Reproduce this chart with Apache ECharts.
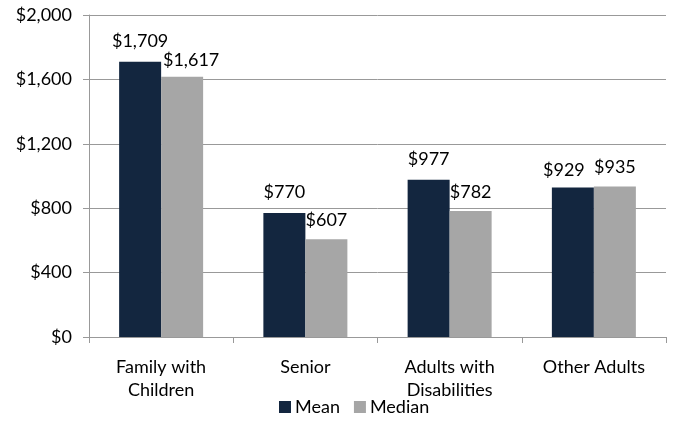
<!DOCTYPE html>
<html>
<head>
<meta charset="utf-8">
<script src="https://cdn.jsdelivr.net/npm/echarts@6/dist/echarts.min.js"></script>
<style>html,body{margin:0;padding:0;background:#fff;}#c{width:688px;height:421px;}</style>
</head>
<body>
<div id="c"></div>
<script>
var categories = ['Family with\nChildren', 'Senior', 'Adults with\nDisabilities', 'Other Adults'];
var meanValues = [1709, 770, 977, 929];
var medianValues = [1617, 607, 782, 935];
var seriesNames = ['Mean', 'Median'];

var fontFam = 'Lato, "Open Sans", sans-serif';
function money(v) { return '$' + v.toLocaleString('en-US'); }

var chart = echarts.init(document.getElementById('c'), null, {renderer: 'canvas'});
chart.setOption({
  animation: false,
  textStyle: {fontFamily: fontFam},
  grid: {left: 89, right: 22, top: 15, bottom: 84},
  legend: {
    data: seriesNames,
    bottom: 0,
    left: 274,
    itemWidth: 12,
    itemHeight: 12,
    itemGap: 14,
    icon: 'rect',
    textStyle: {fontSize: 18, color: '#000', fontFamily: fontFam, padding: [0, 0, 0, -1]}
  },
  xAxis: {
    type: 'category',
    data: categories,
    axisLine: {lineStyle: {color: '#999', width: 1}},
    axisTick: {show: true, length: 6, lineStyle: {color: '#999'}},
    axisLabel: {fontSize: 18, color: '#000', lineHeight: 23, margin: 19, fontFamily: fontFam}
  },
  yAxis: {
    type: 'value',
    min: 0,
    max: 2000,
    interval: 400,
    axisLine: {show: true, lineStyle: {color: '#999', width: 1}},
    axisTick: {show: true, length: 6, lineStyle: {color: '#999'}},
    splitLine: {lineStyle: {color: '#999', width: 1}},
    axisLabel: {fontSize: 18, color: '#000', margin: 17, fontFamily: fontFam, formatter: function (v) { return money(v); }}
  },
  series: [
    {
      name: seriesNames[0],
      type: 'bar',
      data: meanValues.map(function (v, i) {
        return i === 3 ? {value: v, label: {offset: [-9, 0], distance: 8}} : v;
      }),
      barWidth: 42,
      barGap: '0%',
      itemStyle: {color: '#13263F'},
      label: {show: true, position: 'top', distance: 12, fontSize: 18, color: '#000', fontFamily: fontFam, formatter: function (p) { return money(p.value); }}
    },
    {
      name: seriesNames[1],
      type: 'bar',
      data: medianValues.map(function (v, i) {
        return i === 0 ? {value: v, label: {offset: [9, 0], distance: 7}} : v;
      }),
      barWidth: 42,
      barGap: '0%',
      itemStyle: {color: '#A6A6A6'},
      label: {show: true, position: 'top', distance: 10, fontSize: 18, color: '#000', fontFamily: fontFam, formatter: function (p) { return money(p.value); }}
    }
  ]
});
</script>
</body>
</html>
